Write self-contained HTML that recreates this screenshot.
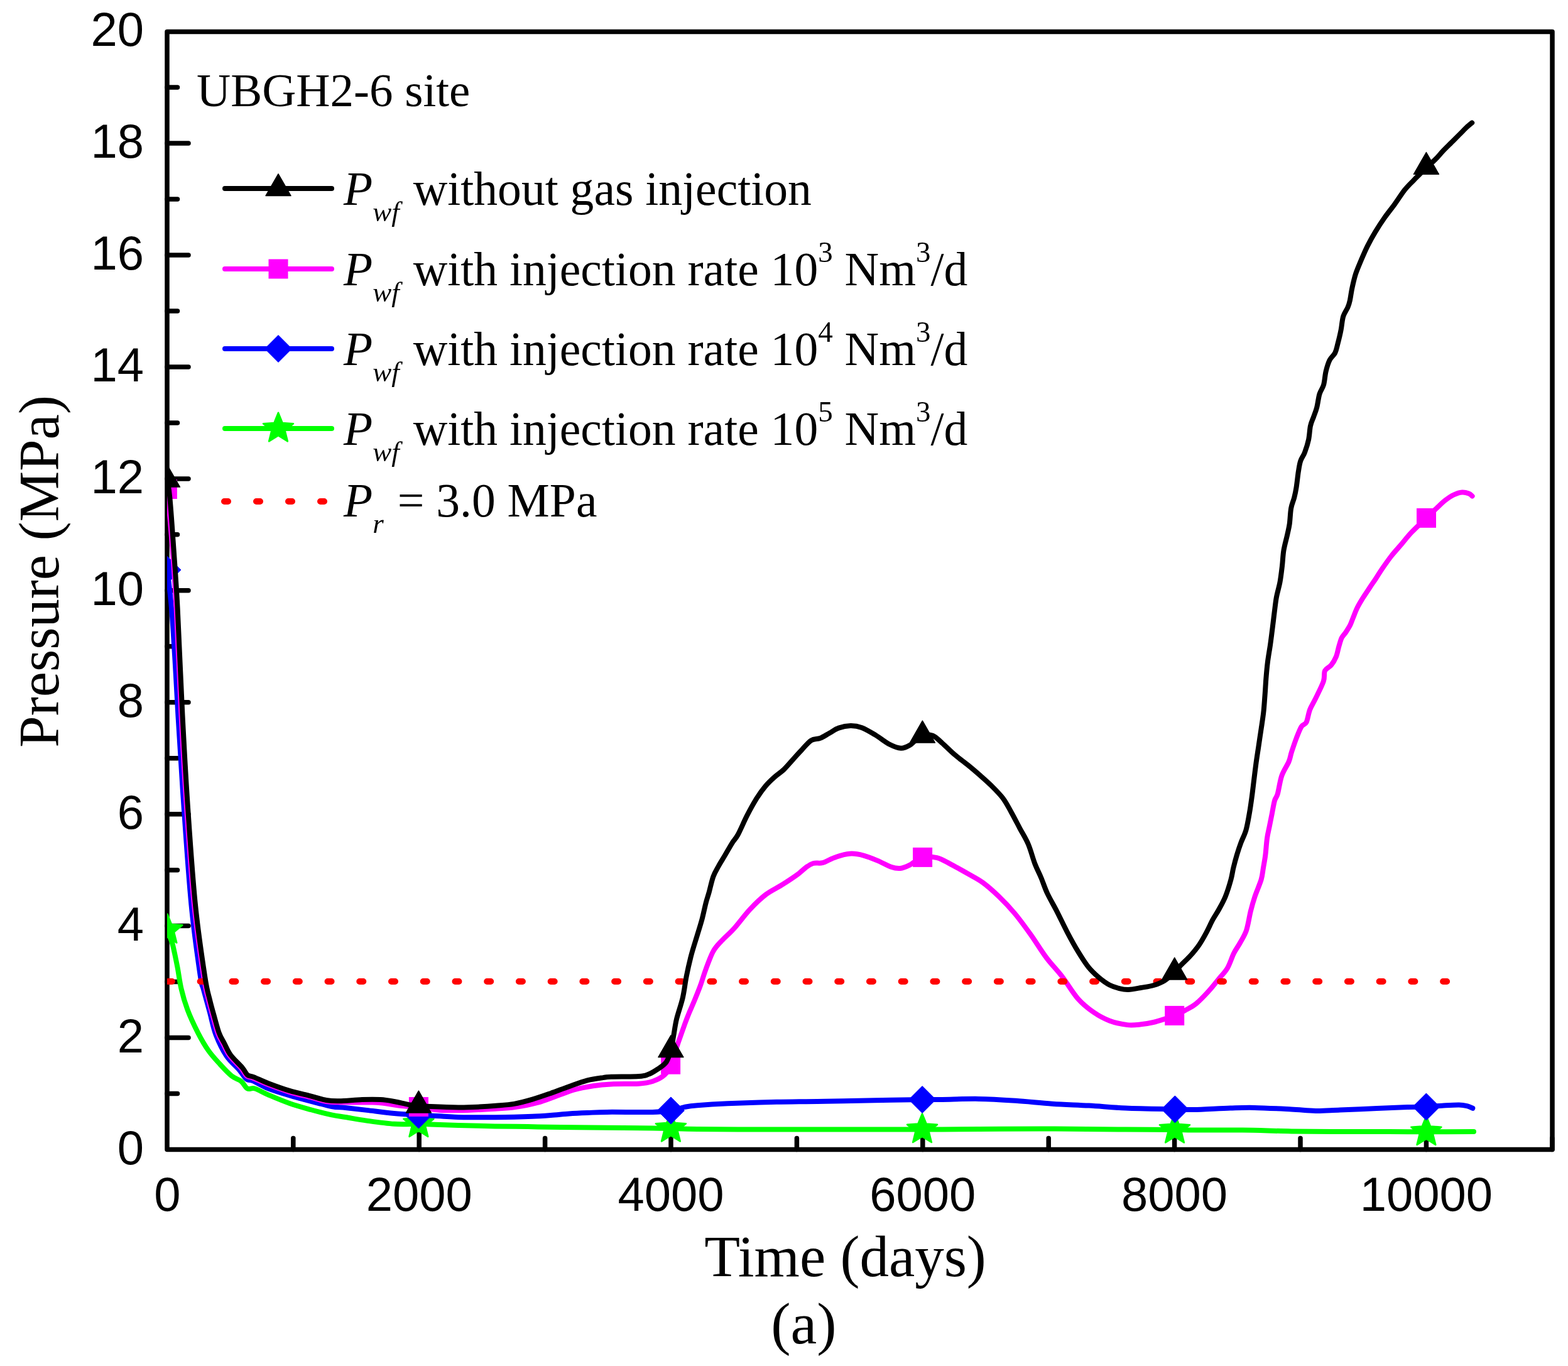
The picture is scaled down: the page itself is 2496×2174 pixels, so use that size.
<!DOCTYPE html>
<html><head><meta charset="utf-8"><style>
html,body{margin:0;padding:0;background:#fff;width:2496px;height:2174px;overflow:hidden}
svg{display:block}
.ax{font-family:"Liberation Sans",Arial,sans-serif;font-size:76px;fill:#000}
.tm{font-family:"Liberation Serif","Times New Roman",serif;fill:#000}
</style></head><body>
<svg width="2496" height="2174" viewBox="0 0 2496 2174">
<defs><clipPath id="cp"><rect x="266" y="50.5" width="2205" height="1779"/></clipPath></defs>

<g stroke="#000" stroke-width="7.5" fill="none" stroke-linecap="round" stroke-linejoin="round">
<rect x="266" y="50.5" width="2205" height="1779"/>
<line x1="266" y1="1740.5" x2="282.5" y2="1740.5"/>
<line x1="266" y1="1651.6" x2="300" y2="1651.6"/>
<line x1="266" y1="1562.6" x2="282.5" y2="1562.6"/>
<line x1="266" y1="1473.6" x2="300" y2="1473.6"/>
<line x1="266" y1="1384.7" x2="282.5" y2="1384.7"/>
<line x1="266" y1="1295.7" x2="300" y2="1295.7"/>
<line x1="266" y1="1206.7" x2="282.5" y2="1206.7"/>
<line x1="266" y1="1117.7" x2="300" y2="1117.7"/>
<line x1="266" y1="1028.8" x2="282.5" y2="1028.8"/>
<line x1="266" y1="939.8" x2="300" y2="939.8"/>
<line x1="266" y1="850.8" x2="282.5" y2="850.8"/>
<line x1="266" y1="761.9" x2="300" y2="761.9"/>
<line x1="266" y1="672.9" x2="282.5" y2="672.9"/>
<line x1="266" y1="583.9" x2="300" y2="583.9"/>
<line x1="266" y1="495.0" x2="282.5" y2="495.0"/>
<line x1="266" y1="406.0" x2="300" y2="406.0"/>
<line x1="266" y1="317.0" x2="282.5" y2="317.0"/>
<line x1="266" y1="228.0" x2="300" y2="228.0"/>
<line x1="266" y1="139.1" x2="282.5" y2="139.1"/>
<line x1="466.8" y1="1829.5" x2="466.8" y2="1811.5"/>
<line x1="667.2" y1="1829.5" x2="667.2" y2="1795"/>
<line x1="867.6" y1="1829.5" x2="867.6" y2="1811.5"/>
<line x1="1068.0" y1="1829.5" x2="1068.0" y2="1795"/>
<line x1="1268.4" y1="1829.5" x2="1268.4" y2="1811.5"/>
<line x1="1468.8" y1="1829.5" x2="1468.8" y2="1795"/>
<line x1="1669.2" y1="1829.5" x2="1669.2" y2="1811.5"/>
<line x1="1869.6" y1="1829.5" x2="1869.6" y2="1795"/>
<line x1="2070.0" y1="1829.5" x2="2070.0" y2="1811.5"/>
<line x1="2270.4" y1="1829.5" x2="2270.4" y2="1795"/>
<line x1="2470.8" y1="1829.5" x2="2470.8" y2="1811.5"/>
</g>
<g class="ax" text-anchor="end">
<text x="229" y="1852.5">0</text>
<text x="229" y="1674.6">2</text>
<text x="229" y="1496.6">4</text>
<text x="229" y="1318.7">6</text>
<text x="229" y="1140.7">8</text>
<text x="229" y="962.8">10</text>
<text x="229" y="784.9">12</text>
<text x="229" y="606.9">14</text>
<text x="229" y="429.0">16</text>
<text x="229" y="251.0">18</text>
<text x="229" y="73.1">20</text>
</g>
<g class="ax" text-anchor="middle">
<text x="266.4" y="1927">0</text>
<text x="667.2" y="1927">2000</text>
<text x="1068.0" y="1927">4000</text>
<text x="1468.8" y="1927">6000</text>
<text x="1869.6" y="1927">8000</text>
<text x="2270.4" y="1927">10000</text>
</g>
<text class="tm" font-size="93" x="1345.5" y="2030.5" text-anchor="middle">Time (days)</text>
<text class="tm" font-size="94" x="1279.3" y="2138" text-anchor="middle">(a)</text>
<text class="tm" font-size="90.5" transform="translate(93.3,909.4) rotate(-90)" text-anchor="middle">Pressure (MPa)</text>
<text class="tm" font-size="75" x="313" y="169">UBGH2-6 site</text>
<line x1="358" y1="300" x2="528" y2="300" stroke="#000" stroke-width="8" stroke-linecap="round"/>
<path d="M443 276.8 L463 311.6 L423 311.6Z" fill="#000" stroke="#000" stroke-width="1.5" stroke-linejoin="round"/>
<text class="tm" font-size="75.6" x="547" y="325.8"><tspan font-style="italic">P</tspan><tspan font-style="italic" font-size="45" dy="26">wf</tspan><tspan dy="-26" dx="22">without gas injection</tspan></text>
<line x1="358" y1="428" x2="528" y2="428" stroke="#f0f" stroke-width="8" stroke-linecap="round"/>
<rect x="427.5" y="412.5" width="31" height="31" fill="#f0f"/>
<text class="tm" font-size="75.6" x="547" y="453.8"><tspan font-style="italic">P</tspan><tspan font-style="italic" font-size="45" dy="26">wf</tspan><tspan dy="-26" dx="22">with injection rate 10</tspan><tspan font-size="47" dy="-37">3</tspan><tspan dy="37"> Nm</tspan><tspan font-size="47" dy="-37">3</tspan><tspan dy="37">/d</tspan></text>
<line x1="358" y1="555" x2="528" y2="555" stroke="#00f" stroke-width="8" stroke-linecap="round"/>
<path d="M443 533.5 L464.5 555 L443 576.5 L421.5 555Z" fill="#00f" stroke="#00f" stroke-width="1" stroke-linejoin="round"/>
<text class="tm" font-size="75.6" x="547" y="580.8"><tspan font-style="italic">P</tspan><tspan font-style="italic" font-size="45" dy="26">wf</tspan><tspan dy="-26" dx="22">with injection rate 10</tspan><tspan font-size="47" dy="-37">4</tspan><tspan dy="37"> Nm</tspan><tspan font-size="47" dy="-37">3</tspan><tspan dy="37">/d</tspan></text>
<line x1="358" y1="682" x2="528" y2="682" stroke="#0f0" stroke-width="8" stroke-linecap="round"/>
<polygon points="443.00,656.80 449.58,672.94 466.97,674.21 453.65,685.46 457.81,702.39 443.00,693.20 428.19,702.39 432.35,685.46 419.03,674.21 436.42,672.94" fill="#0f0" stroke="#0f0" stroke-width="2.6" stroke-linejoin="round"/>
<text class="tm" font-size="75.6" x="547" y="707.8"><tspan font-style="italic">P</tspan><tspan font-style="italic" font-size="45" dy="26">wf</tspan><tspan dy="-26" dx="22">with injection rate 10</tspan><tspan font-size="47" dy="-37">5</tspan><tspan dy="37"> Nm</tspan><tspan font-size="47" dy="-37">3</tspan><tspan dy="37">/d</tspan></text>
<line x1="357" y1="798" x2="517" y2="798" stroke="#f00" stroke-width="10" stroke-linecap="round" stroke-dasharray="6 45"/>
<text class="tm" font-size="75.6" x="547" y="822.3"><tspan font-style="italic">P</tspan><tspan font-style="italic" font-size="45" dy="26">r</tspan><tspan dy="-26" dx="22">= 3.0 MPa</tspan></text>
<g clip-path="url(#cp)">
<path d="M266.4 1480.0 C267.0 1481.7 268.7 1486.6 270.0 1490.0 C271.3 1493.4 272.8 1496.6 274.0 1500.5 C275.2 1504.4 275.8 1507.0 277.2 1513.6 C278.6 1520.2 280.7 1530.0 282.6 1540.0 C284.5 1550.0 285.9 1562.3 288.5 1573.5 C291.1 1584.7 294.1 1595.3 298.5 1607.0 C302.9 1618.7 309.6 1632.9 315.2 1643.8 C320.8 1654.7 326.1 1663.9 332.0 1672.3 C337.9 1680.7 344.3 1687.3 350.4 1694.0 C356.5 1700.7 363.2 1707.9 368.8 1712.4 C374.4 1716.9 379.7 1717.5 383.9 1720.8 C388.1 1724.1 390.3 1730.5 393.9 1732.5 C397.5 1734.5 400.1 1730.8 405.7 1732.5 C411.3 1734.2 418.2 1738.7 427.4 1742.6 C436.6 1746.5 449.7 1752.1 460.9 1756.0 C472.1 1759.9 483.2 1762.9 494.4 1766.0 C505.6 1769.1 518.6 1772.4 527.9 1774.4 C537.2 1776.4 540.7 1776.5 550.0 1778.0 C559.3 1779.5 570.9 1781.8 583.8 1783.6 C596.7 1785.4 613.7 1787.9 627.5 1788.8 C641.3 1789.7 656.7 1788.7 666.4 1788.8 C676.1 1788.9 675.3 1789.2 685.8 1789.5 C696.3 1789.8 712.6 1790.4 729.6 1790.9 C746.6 1791.4 769.5 1792.0 787.9 1792.4 C806.3 1792.8 822.5 1792.8 840.0 1793.1 C857.5 1793.4 871.9 1793.7 892.9 1794.0 C913.9 1794.3 941.5 1794.5 965.8 1794.7 C990.1 1794.9 1021.8 1795.2 1038.8 1795.4 C1055.8 1795.6 1056.0 1795.7 1067.9 1796.0 C1079.8 1796.3 1088.5 1796.8 1110.0 1797.0 C1131.5 1797.2 1166.5 1797.4 1197.2 1797.5 C1228.0 1797.6 1262.1 1797.5 1294.5 1797.5 C1326.9 1797.5 1362.8 1797.5 1391.7 1797.5 C1420.6 1797.5 1450.0 1797.6 1468.0 1797.6 C1486.0 1797.6 1468.7 1797.7 1500.0 1797.5 C1531.3 1797.3 1607.0 1796.5 1655.6 1796.5 C1704.2 1796.5 1756.0 1797.2 1791.7 1797.5 C1827.4 1797.8 1852.0 1797.8 1870.0 1798.0 C1888.0 1798.2 1882.0 1798.4 1900.0 1798.5 C1918.0 1798.6 1951.9 1798.2 1977.8 1798.5 C2003.7 1798.8 2029.7 1800.0 2055.6 1800.4 C2081.5 1800.8 2107.4 1800.9 2133.3 1801.0 C2159.2 1801.1 2188.2 1801.0 2211.1 1801.0 C2233.9 1801.0 2247.9 1801.3 2270.4 1801.3 C2292.9 1801.3 2333.4 1801.0 2346.0 1801.0" fill="none" stroke="#0f0" stroke-width="8" stroke-linejoin="round" stroke-linecap="round"/>
<polygon points="266.40,1454.80 272.98,1470.94 290.37,1472.21 277.05,1483.46 281.21,1500.39 266.40,1491.20 251.59,1500.39 255.75,1483.46 242.43,1472.21 259.82,1470.94" fill="#0f0" stroke="#0f0" stroke-width="2.6" stroke-linejoin="round"/>
<polygon points="666.40,1763.30 672.98,1779.44 690.37,1780.71 677.05,1791.96 681.21,1808.89 666.40,1799.70 651.59,1808.89 655.75,1791.96 642.43,1780.71 659.82,1779.44" fill="#0f0" stroke="#0f0" stroke-width="2.6" stroke-linejoin="round"/>
<polygon points="1067.90,1770.80 1074.48,1786.94 1091.87,1788.21 1078.55,1799.46 1082.71,1816.39 1067.90,1807.20 1053.09,1816.39 1057.25,1799.46 1043.93,1788.21 1061.32,1786.94" fill="#0f0" stroke="#0f0" stroke-width="2.6" stroke-linejoin="round"/>
<polygon points="1468.00,1772.40 1474.58,1788.54 1491.97,1789.81 1478.65,1801.06 1482.81,1817.99 1468.00,1808.80 1453.19,1817.99 1457.35,1801.06 1444.03,1789.81 1461.42,1788.54" fill="#0f0" stroke="#0f0" stroke-width="2.6" stroke-linejoin="round"/>
<polygon points="1870.00,1772.80 1876.58,1788.94 1893.97,1790.21 1880.65,1801.46 1884.81,1818.39 1870.00,1809.20 1855.19,1818.39 1859.35,1801.46 1846.03,1790.21 1863.42,1788.94" fill="#0f0" stroke="#0f0" stroke-width="2.6" stroke-linejoin="round"/>
<polygon points="2270.40,1776.30 2276.98,1792.44 2294.37,1793.71 2281.05,1804.96 2285.21,1821.89 2270.40,1812.70 2255.59,1821.89 2259.75,1804.96 2246.43,1793.71 2263.82,1792.44" fill="#0f0" stroke="#0f0" stroke-width="2.6" stroke-linejoin="round"/>
<path d="M266.4 907.0 C267.5 917.1 271.0 943.9 273.0 967.7 C275.0 991.5 276.8 1021.3 278.5 1050.0 C280.2 1078.7 281.2 1101.5 283.5 1140.0 C285.8 1178.5 288.9 1230.7 292.4 1280.7 C295.9 1330.7 300.1 1394.5 304.5 1440.0 C308.9 1485.5 315.7 1531.5 318.9 1553.8 C322.1 1576.0 321.1 1564.1 323.6 1573.5 C326.1 1582.9 330.4 1598.0 333.7 1610.3 C337.0 1622.6 339.2 1635.4 343.7 1647.1 C348.2 1658.8 354.4 1671.4 360.5 1680.6 C366.6 1689.8 375.2 1696.2 380.5 1702.4 C385.8 1708.6 388.7 1714.6 392.3 1717.5 C395.9 1720.4 396.5 1717.5 402.3 1720.0 C408.1 1722.5 417.6 1728.6 427.4 1732.5 C437.2 1736.4 449.7 1740.1 460.9 1743.4 C472.1 1746.8 483.2 1749.7 494.4 1752.6 C505.6 1755.5 518.6 1759.3 527.9 1761.0 C537.2 1762.7 540.7 1762.0 550.0 1763.0 C559.3 1764.0 570.9 1765.4 583.8 1766.9 C596.7 1768.4 613.7 1770.7 627.5 1772.0 C641.3 1773.3 656.7 1773.9 666.4 1774.5 C676.1 1775.1 675.3 1775.0 685.8 1775.6 C696.3 1776.2 717.2 1777.5 729.6 1778.0 C742.0 1778.5 745.2 1778.3 760.0 1778.3 C774.8 1778.3 803.7 1778.0 818.3 1777.8 C832.9 1777.5 837.8 1777.3 847.5 1776.8 C857.2 1776.3 867.0 1775.6 876.7 1774.9 C886.4 1774.2 896.1 1773.1 905.8 1772.4 C915.5 1771.8 925.0 1771.4 935.0 1771.0 C945.0 1770.6 948.5 1770.1 965.8 1769.9 C983.1 1769.7 1021.8 1770.3 1038.8 1769.9 C1055.8 1769.5 1059.4 1768.7 1067.9 1767.4 C1076.4 1766.1 1082.8 1763.3 1089.8 1761.9 C1096.8 1760.5 1098.6 1760.1 1110.0 1759.2 C1121.4 1758.3 1137.3 1757.2 1158.3 1756.3 C1179.3 1755.4 1210.2 1754.4 1236.1 1753.8 C1262.0 1753.2 1288.0 1753.2 1313.9 1752.8 C1339.8 1752.4 1366.0 1751.7 1391.7 1751.2 C1417.4 1750.7 1450.0 1750.2 1468.1 1750.0 C1486.1 1749.8 1485.0 1750.1 1500.0 1749.9 C1515.0 1749.7 1538.8 1748.6 1558.3 1748.9 C1577.8 1749.2 1597.2 1750.5 1616.7 1751.8 C1636.2 1753.1 1655.5 1755.4 1675.0 1756.7 C1694.5 1758.0 1714.0 1758.5 1733.4 1759.6 C1752.9 1760.7 1768.9 1762.5 1791.7 1763.5 C1814.5 1764.5 1852.4 1765.0 1870.4 1765.4 C1888.5 1765.8 1885.3 1766.3 1900.0 1766.0 C1914.7 1765.7 1942.1 1764.0 1958.3 1763.5 C1974.5 1763.0 1981.0 1762.6 1997.2 1762.9 C2013.4 1763.2 2039.4 1764.6 2055.6 1765.4 C2071.8 1766.2 2081.6 1767.7 2094.5 1767.9 C2107.4 1768.1 2117.1 1767.0 2133.3 1766.4 C2149.5 1765.8 2173.9 1764.8 2191.7 1764.1 C2209.5 1763.4 2227.2 1762.5 2240.3 1762.1 C2253.4 1761.7 2261.2 1761.9 2270.4 1761.5 C2279.6 1761.1 2286.6 1760.2 2295.3 1759.7 C2304.0 1759.2 2315.7 1758.3 2322.5 1758.4 C2329.3 1758.5 2332.5 1759.5 2336.1 1760.4 C2339.7 1761.3 2342.9 1763.2 2344.3 1763.8" fill="none" stroke="#00f" stroke-width="8" stroke-linejoin="round" stroke-linecap="round"/>
<path d="M266.4 885.5 L287.9 907 L266.4 928.5 L244.89999999999998 907Z" fill="#00f" stroke="#00f" stroke-width="1" stroke-linejoin="round"/>
<path d="M666.4 1753.0 L687.9 1774.5 L666.4 1796.0 L644.9 1774.5Z" fill="#00f" stroke="#00f" stroke-width="1" stroke-linejoin="round"/>
<path d="M1067.9 1745.9 L1089.4 1767.4 L1067.9 1788.9 L1046.4 1767.4Z" fill="#00f" stroke="#00f" stroke-width="1" stroke-linejoin="round"/>
<path d="M1468.1 1728.5 L1489.6 1750 L1468.1 1771.5 L1446.6 1750Z" fill="#00f" stroke="#00f" stroke-width="1" stroke-linejoin="round"/>
<path d="M1870.4 1743.9 L1891.9 1765.4 L1870.4 1786.9 L1848.9 1765.4Z" fill="#00f" stroke="#00f" stroke-width="1" stroke-linejoin="round"/>
<path d="M2270.4 1740.0 L2291.9 1761.5 L2270.4 1783.0 L2248.9 1761.5Z" fill="#00f" stroke="#00f" stroke-width="1" stroke-linejoin="round"/>
<path d="M266.4 778.5 C267.8 794.4 272.1 842.5 274.5 874.0 C276.9 905.5 278.3 923.7 280.6 967.8 C282.9 1011.9 285.8 1086.6 288.5 1138.8 C291.2 1191.0 293.3 1230.6 296.7 1280.8 C300.1 1331.0 304.4 1394.7 309.0 1440.2 C313.6 1485.8 320.3 1529.0 324.1 1554.1 C327.9 1579.2 329.4 1580.4 331.8 1590.7 C334.2 1601.0 336.0 1606.8 338.5 1615.8 C341.0 1624.8 344.0 1636.9 346.8 1644.5 C349.6 1652.1 352.2 1655.5 355.3 1661.4 C358.4 1667.4 360.7 1673.7 365.5 1680.2 C370.3 1686.7 379.6 1695.0 384.1 1700.3 C388.6 1705.6 389.4 1709.7 392.6 1712.3 C395.8 1714.9 397.6 1713.7 403.3 1716.0 C409.0 1718.3 417.2 1722.5 426.7 1726.1 C436.2 1729.7 449.1 1734.4 460.3 1737.8 C471.5 1741.2 484.1 1743.7 493.9 1746.2 C503.7 1748.7 511.5 1751.7 519.2 1753.0 C526.9 1754.3 529.1 1754.0 539.9 1754.3 C550.7 1754.5 572.8 1754.3 583.8 1754.5 C594.8 1754.7 595.9 1754.2 605.6 1755.2 C615.3 1756.2 631.6 1759.2 642.0 1760.3 C652.4 1761.4 658.3 1760.9 668.0 1762.0 C677.7 1763.1 687.7 1766.1 700.4 1766.9 C713.1 1767.7 729.6 1767.3 744.2 1766.9 C758.8 1766.5 775.3 1765.5 787.9 1764.7 C800.5 1763.9 808.6 1763.7 820.0 1762.0 C831.4 1760.3 845.6 1757.5 856.5 1754.6 C867.4 1751.7 875.9 1747.8 885.6 1744.4 C895.3 1741.0 905.1 1736.9 914.8 1734.2 C924.5 1731.5 934.3 1729.8 944.0 1728.3 C953.7 1726.8 961.0 1726.0 973.1 1725.4 C985.2 1724.8 1006.0 1725.4 1016.9 1724.7 C1027.8 1724.0 1032.0 1723.3 1038.8 1721.0 C1045.6 1718.7 1052.8 1715.3 1057.7 1710.8 C1062.6 1706.3 1064.2 1703.0 1067.9 1694.2 C1071.6 1685.5 1076.3 1669.0 1080.0 1658.3 C1083.7 1647.6 1087.2 1637.7 1090.0 1630.0 C1092.8 1622.3 1094.3 1618.5 1097.0 1612.0 C1099.7 1605.5 1103.0 1598.5 1106.0 1591.1 C1109.0 1583.7 1112.3 1575.8 1115.2 1567.7 C1118.1 1559.6 1120.2 1551.5 1123.6 1542.6 C1126.9 1533.7 1131.1 1521.6 1135.3 1514.1 C1139.5 1506.6 1143.1 1503.5 1148.7 1497.4 C1154.3 1491.3 1161.3 1485.7 1168.8 1477.3 C1176.3 1468.9 1185.5 1456.1 1193.9 1447.2 C1202.3 1438.3 1210.6 1430.2 1219.0 1423.8 C1227.4 1417.4 1235.7 1414.0 1244.1 1408.7 C1252.5 1403.4 1262.7 1396.7 1269.2 1392.0 C1275.7 1387.3 1278.8 1383.5 1283.0 1380.5 C1287.2 1377.5 1290.2 1375.2 1294.6 1374.0 C1299.0 1372.8 1304.3 1374.4 1309.2 1373.2 C1314.1 1372.0 1319.0 1368.6 1323.8 1366.7 C1328.6 1364.8 1333.0 1362.9 1338.3 1361.6 C1343.6 1360.2 1349.7 1358.6 1355.8 1358.6 C1361.9 1358.6 1368.0 1359.8 1374.8 1361.6 C1381.6 1363.4 1389.4 1366.6 1396.7 1369.6 C1404.0 1372.6 1412.4 1377.7 1418.5 1379.8 C1424.6 1381.9 1428.2 1382.5 1433.1 1382.0 C1438.0 1381.5 1441.8 1379.8 1447.7 1376.9 C1453.6 1374.0 1461.3 1366.5 1468.6 1364.5 C1475.9 1362.5 1484.0 1363.4 1491.5 1365.2 C1499.0 1367.0 1504.8 1371.0 1513.3 1375.4 C1521.8 1379.8 1533.9 1386.6 1542.5 1391.5 C1551.1 1396.4 1557.0 1399.1 1565.0 1405.0 C1573.0 1410.9 1581.8 1418.8 1590.2 1426.9 C1598.6 1435.0 1606.9 1443.7 1615.3 1453.7 C1623.7 1463.7 1632.1 1475.4 1640.5 1487.1 C1648.9 1498.8 1657.2 1512.8 1665.6 1524.0 C1674.0 1535.2 1682.3 1543.2 1690.7 1554.1 C1699.1 1565.0 1707.4 1579.8 1715.8 1589.3 C1724.2 1598.8 1732.5 1605.2 1740.9 1611.0 C1749.3 1616.8 1757.1 1621.1 1766.0 1624.4 C1774.9 1627.8 1786.1 1630.1 1794.5 1631.1 C1802.9 1632.1 1809.3 1631.0 1816.2 1630.3 C1823.1 1629.6 1829.8 1628.4 1836.0 1627.0 C1842.2 1625.6 1847.9 1623.7 1853.5 1621.9 C1859.1 1620.1 1864.1 1618.8 1869.7 1616.4 C1875.3 1614.0 1881.3 1610.8 1887.0 1607.7 C1892.7 1604.6 1897.6 1602.6 1903.7 1597.6 C1909.8 1592.6 1917.7 1584.3 1923.8 1577.6 C1929.9 1570.9 1935.5 1563.7 1940.5 1557.5 C1945.5 1551.3 1950.0 1547.4 1953.9 1540.7 C1957.8 1534.0 1960.7 1524.0 1964.0 1517.3 C1967.3 1510.6 1970.7 1506.6 1974.0 1500.5 C1977.3 1494.4 1981.3 1488.9 1984.1 1480.5 C1986.9 1472.1 1988.6 1459.2 1990.8 1450.3 C1993.0 1441.4 1994.7 1435.3 1997.5 1426.9 C2000.3 1418.5 2005.3 1407.6 2007.6 1400.0 C2009.8 1392.4 2009.9 1387.6 2011.0 1381.1 C2012.1 1374.6 2013.3 1368.8 2014.3 1361.0 C2015.3 1353.2 2015.9 1342.0 2017.0 1334.2 C2018.1 1326.4 2019.7 1320.8 2021.0 1314.1 C2022.3 1307.4 2023.7 1300.7 2025.0 1294.0 C2026.3 1287.3 2027.6 1279.0 2029.1 1273.9 C2030.6 1268.8 2031.9 1270.0 2033.8 1263.4 C2035.7 1256.8 2037.4 1243.0 2040.4 1234.4 C2043.4 1225.9 2049.0 1218.4 2051.6 1212.1 C2054.2 1205.8 2054.0 1202.7 2056.1 1196.4 C2058.2 1190.1 2061.3 1180.8 2063.9 1174.1 C2066.5 1167.4 2069.1 1160.4 2071.7 1156.3 C2074.3 1152.2 2077.3 1154.1 2079.5 1149.6 C2081.7 1145.1 2082.7 1135.8 2085.1 1129.5 C2087.5 1123.2 2090.4 1119.5 2094.0 1112.0 C2097.6 1104.5 2104.3 1091.6 2106.8 1084.2 C2109.3 1076.8 2106.9 1071.7 2109.0 1067.4 C2111.1 1063.1 2116.1 1062.2 2119.1 1058.5 C2122.1 1054.8 2124.8 1050.1 2126.9 1045.1 C2129.0 1040.1 2129.9 1033.4 2131.4 1028.4 C2132.9 1023.4 2134.0 1018.7 2135.8 1015.0 C2137.7 1011.3 2140.3 1009.4 2142.5 1006.0 C2144.7 1002.6 2147.3 998.6 2149.2 994.9 C2151.1 991.2 2151.8 988.3 2153.7 983.7 C2155.6 979.1 2157.8 972.8 2160.4 967.5 C2163.0 962.2 2166.0 957.4 2169.3 952.0 C2172.7 946.6 2177.1 940.2 2180.5 935.0 C2183.9 929.8 2186.7 926.0 2190.0 921.0 C2193.3 916.0 2196.1 911.1 2200.3 905.0 C2204.5 898.9 2209.9 891.1 2215.0 884.6 C2220.1 878.1 2225.8 872.1 2231.1 865.9 C2236.4 859.6 2240.5 854.0 2247.1 847.1 C2253.7 840.2 2263.8 830.9 2270.5 824.4 C2277.2 817.9 2282.3 813.0 2287.3 808.3 C2292.3 803.6 2296.2 799.7 2300.7 796.2 C2305.2 792.7 2309.6 789.6 2314.1 787.5 C2318.6 785.4 2323.5 783.8 2327.5 783.5 C2331.5 783.2 2335.5 784.5 2338.2 785.5 C2340.9 786.5 2342.7 788.9 2343.6 789.6" fill="none" stroke="#f0f" stroke-width="8" stroke-linejoin="round" stroke-linecap="round"/>
<rect x="250.89999999999998" y="763.0" width="31" height="31" fill="#f0f"/>
<rect x="650.9" y="1746.0" width="31" height="31" fill="#f0f"/>
<rect x="1052.1" y="1678.7" width="31" height="31" fill="#f0f"/>
<rect x="1453.1" y="1348.9" width="31" height="31" fill="#f0f"/>
<rect x="1854.2" y="1600.9" width="31" height="31" fill="#f0f"/>
<rect x="2255.0" y="808.9" width="31" height="31" fill="#f0f"/>
<line x1="267.9" y1="1562" x2="2303.2" y2="1562" stroke="#f00" stroke-width="10" stroke-linecap="round" stroke-dasharray="6 44.73"/>
<path d="M266.4 763.0 C267.1 768.1 268.8 775.1 270.5 793.6 C272.2 812.1 274.5 844.9 276.5 873.9 C278.5 902.9 280.3 923.6 282.6 967.7 C284.9 1011.8 287.8 1086.5 290.5 1138.7 C293.2 1190.9 295.3 1230.5 298.7 1280.7 C302.1 1330.9 306.4 1394.5 311.0 1440.0 C315.6 1485.5 322.3 1528.8 326.1 1553.8 C329.9 1578.8 331.3 1580.0 333.7 1590.2 C336.1 1600.5 337.9 1606.4 340.4 1615.3 C342.9 1624.2 345.9 1636.3 348.7 1643.8 C351.5 1651.3 354.0 1654.6 357.1 1660.5 C360.2 1666.4 362.4 1672.6 367.1 1679.0 C371.9 1685.4 381.1 1693.7 385.6 1699.0 C390.1 1704.3 390.8 1708.3 393.9 1710.8 C397.0 1713.3 398.4 1711.9 404.0 1714.1 C409.6 1716.3 417.9 1720.6 427.4 1724.2 C436.9 1727.8 449.7 1732.6 460.9 1735.9 C472.1 1739.2 484.6 1741.8 494.4 1744.3 C504.2 1746.8 511.9 1749.7 519.5 1751.0 C527.1 1752.3 530.5 1752.5 540.0 1752.3 C549.5 1752.1 565.6 1750.5 576.5 1750.1 C587.4 1749.7 597.1 1749.6 605.6 1750.1 C614.1 1750.6 620.0 1751.7 627.5 1753.0 C635.0 1754.3 644.3 1757.0 650.8 1758.1 C657.3 1759.2 660.6 1758.9 666.4 1759.4 C672.2 1759.9 675.3 1760.5 685.8 1761.0 C696.3 1761.5 717.2 1762.4 729.6 1762.5 C742.0 1762.6 750.1 1762.2 760.0 1761.7 C769.9 1761.2 779.5 1760.6 789.2 1759.8 C798.9 1759.0 808.6 1758.6 818.3 1756.9 C828.0 1755.2 837.8 1752.4 847.5 1749.6 C857.2 1746.8 867.0 1743.3 876.7 1739.9 C886.4 1736.5 896.1 1732.6 905.8 1729.2 C915.5 1725.8 926.0 1721.8 935.0 1719.4 C944.0 1717.1 953.6 1716.0 960.0 1715.1 C966.4 1714.2 963.6 1714.1 973.1 1713.8 C982.6 1713.5 1007.2 1713.6 1016.9 1713.0 C1026.6 1712.4 1026.7 1711.9 1031.5 1710.1 C1036.3 1708.3 1041.2 1705.4 1046.0 1702.1 C1050.8 1698.8 1056.9 1695.6 1060.6 1690.4 C1064.2 1685.2 1066.0 1678.0 1067.9 1671.0 C1069.9 1664.0 1070.8 1656.3 1072.3 1648.1 C1073.8 1639.9 1074.6 1632.0 1077.0 1621.9 C1079.4 1611.9 1084.2 1599.1 1086.8 1587.8 C1089.4 1576.5 1090.4 1565.5 1092.6 1554.3 C1094.8 1543.1 1097.3 1531.9 1100.2 1520.8 C1103.1 1509.7 1107.3 1497.2 1110.2 1487.4 C1113.1 1477.7 1115.5 1470.7 1117.7 1462.3 C1119.9 1453.9 1121.8 1444.2 1123.6 1437.2 C1125.4 1430.2 1126.6 1427.4 1128.6 1420.4 C1130.5 1413.4 1132.8 1402.3 1135.3 1395.3 C1137.8 1388.3 1140.6 1384.2 1143.7 1378.6 C1146.8 1373.0 1150.1 1367.9 1153.7 1361.8 C1157.3 1355.7 1161.9 1347.3 1165.4 1341.8 C1168.9 1336.2 1170.6 1335.8 1174.6 1328.5 C1178.6 1321.2 1184.3 1307.4 1189.2 1297.9 C1194.1 1288.4 1199.0 1279.5 1203.8 1271.7 C1208.6 1263.9 1213.4 1257.1 1218.3 1251.3 C1223.2 1245.5 1228.0 1241.1 1232.9 1236.7 C1237.8 1232.3 1242.6 1229.6 1247.5 1225.0 C1252.4 1220.4 1257.2 1214.3 1262.1 1209.0 C1267.0 1203.7 1271.8 1198.0 1276.7 1192.9 C1281.6 1187.8 1286.5 1181.3 1291.3 1178.3 C1296.1 1175.3 1300.9 1176.6 1305.8 1174.7 C1310.7 1172.8 1315.5 1169.4 1320.4 1166.7 C1325.3 1164.0 1329.4 1160.5 1335.0 1158.6 C1340.6 1156.6 1347.9 1155.1 1354.0 1155.0 C1360.1 1154.9 1365.0 1155.5 1371.5 1157.9 C1378.0 1160.3 1386.0 1165.2 1393.3 1169.6 C1400.6 1174.0 1408.4 1180.7 1415.2 1184.2 C1422.0 1187.7 1428.6 1190.5 1434.2 1190.7 C1439.8 1190.9 1444.5 1188.1 1448.8 1185.6 C1453.1 1183.0 1456.8 1178.0 1460.0 1175.4 C1463.2 1172.8 1464.1 1170.8 1468.2 1170.0 C1472.3 1169.2 1479.5 1168.6 1484.8 1170.7 C1490.1 1172.8 1494.1 1177.7 1499.9 1182.7 C1505.7 1187.7 1512.6 1195.0 1519.4 1200.8 C1526.2 1206.6 1533.7 1211.9 1540.5 1217.4 C1547.3 1222.9 1553.8 1228.5 1560.1 1234.0 C1566.4 1239.5 1572.2 1244.5 1578.2 1250.5 C1584.2 1256.5 1591.0 1263.1 1596.3 1270.1 C1601.6 1277.1 1605.3 1284.7 1609.8 1292.7 C1614.3 1300.7 1618.9 1309.8 1623.4 1318.3 C1627.9 1326.8 1633.0 1334.5 1637.0 1344.0 C1641.0 1353.5 1644.1 1366.2 1647.5 1375.0 C1650.9 1383.8 1653.9 1388.9 1657.2 1396.7 C1660.5 1404.5 1663.0 1413.0 1667.2 1421.9 C1671.4 1430.8 1677.0 1440.0 1682.3 1450.3 C1687.6 1460.6 1693.4 1473.2 1699.0 1483.8 C1704.6 1494.4 1710.2 1504.7 1715.8 1513.9 C1721.4 1523.1 1726.9 1532.0 1732.5 1539.0 C1738.1 1546.0 1743.7 1551.0 1749.3 1555.8 C1754.9 1560.5 1760.4 1564.6 1766.0 1567.5 C1771.6 1570.4 1777.8 1572.2 1782.8 1573.4 C1787.8 1574.7 1790.6 1575.2 1796.2 1575.0 C1801.8 1574.8 1809.5 1573.2 1816.2 1572.0 C1823.0 1570.8 1830.5 1569.9 1836.7 1568.0 C1842.9 1566.1 1848.0 1564.2 1853.5 1560.8 C1859.0 1557.4 1865.5 1551.3 1869.7 1547.4 C1873.9 1543.5 1874.3 1541.9 1878.6 1537.4 C1882.9 1532.9 1890.3 1526.2 1895.3 1520.6 C1900.3 1515.0 1904.5 1510.0 1908.7 1503.9 C1912.9 1497.8 1916.9 1490.5 1920.5 1483.8 C1924.1 1477.1 1927.2 1469.8 1930.5 1463.7 C1933.8 1457.6 1937.2 1453.1 1940.5 1447.0 C1943.8 1440.9 1947.4 1434.7 1950.6 1426.9 C1953.8 1419.1 1957.3 1407.6 1959.4 1400.0 C1961.5 1392.4 1961.8 1387.6 1963.4 1381.1 C1965.0 1374.6 1966.8 1367.7 1968.8 1361.0 C1970.8 1354.3 1973.0 1347.6 1975.5 1340.9 C1978.0 1334.2 1981.3 1328.6 1983.5 1320.8 C1985.7 1313.0 1987.3 1302.9 1988.9 1294.0 C1990.5 1285.1 1991.7 1276.1 1992.9 1267.2 C1994.1 1258.3 1995.1 1249.3 1996.2 1240.4 C1997.3 1231.5 1998.4 1222.5 1999.6 1213.6 C2000.8 1204.7 2002.3 1195.7 2003.6 1186.8 C2004.9 1177.9 2006.3 1168.8 2007.6 1160.0 C2008.9 1151.2 2010.3 1142.7 2011.3 1133.9 C2012.3 1125.1 2012.8 1116.0 2013.5 1107.1 C2014.2 1098.2 2014.6 1089.3 2015.3 1080.4 C2016.0 1071.5 2016.8 1062.5 2017.9 1053.6 C2019.0 1044.7 2020.7 1035.7 2022.0 1026.8 C2023.3 1017.9 2024.4 1008.4 2025.5 1000.0 C2026.6 991.6 2027.4 984.4 2028.4 976.2 C2029.5 968.0 2030.3 959.4 2031.8 951.0 C2033.3 942.6 2036.1 934.3 2037.6 925.9 C2039.1 917.5 2040.0 909.2 2041.0 900.8 C2042.0 892.4 2042.1 884.1 2043.5 875.7 C2044.9 867.3 2047.8 857.6 2049.3 850.6 C2050.8 843.6 2051.7 840.9 2052.7 833.9 C2053.7 826.9 2053.9 815.8 2055.2 808.8 C2056.4 801.8 2058.8 797.6 2060.2 792.0 C2061.6 786.4 2062.5 782.3 2063.6 775.3 C2064.7 768.3 2065.8 757.2 2066.9 750.2 C2068.0 743.2 2068.6 738.5 2070.3 733.5 C2072.0 728.5 2074.8 725.8 2076.9 720.1 C2079.0 714.5 2081.6 706.7 2083.1 699.6 C2084.6 692.5 2084.7 683.8 2086.0 677.8 C2087.3 671.8 2089.4 668.1 2091.1 663.3 C2092.8 658.4 2094.5 654.8 2096.1 648.7 C2097.7 642.7 2098.7 633.0 2100.5 627.0 C2102.3 621.0 2105.3 618.5 2107.0 612.5 C2108.7 606.5 2109.1 597.2 2110.7 590.7 C2112.3 584.2 2114.1 578.1 2116.5 573.2 C2118.9 568.4 2123.0 566.0 2125.2 561.6 C2127.4 557.2 2127.9 553.2 2129.5 547.1 C2131.1 541.0 2133.2 532.5 2134.6 525.3 C2136.0 518.0 2136.4 509.7 2138.2 503.6 C2140.0 497.6 2143.7 493.3 2145.5 489.0 C2147.3 484.7 2147.8 483.1 2148.9 478.0 C2150.0 472.9 2150.8 465.6 2152.3 458.6 C2153.8 451.7 2155.5 443.8 2157.9 436.3 C2160.3 428.9 2163.7 421.3 2166.8 413.9 C2170.0 406.4 2173.1 399.0 2176.8 391.6 C2180.5 384.2 2184.6 376.7 2189.1 369.3 C2193.6 361.9 2198.4 354.4 2203.6 347.0 C2208.8 339.6 2215.0 332.1 2220.4 324.6 C2225.8 317.2 2231.1 308.5 2236.0 302.3 C2240.9 296.1 2246.4 291.1 2250.1 287.2 C2253.8 283.3 2254.7 282.5 2258.1 279.1 C2261.5 275.7 2265.8 271.2 2270.3 267.0 C2274.8 262.8 2280.5 258.1 2284.9 253.7 C2289.3 249.2 2292.8 244.8 2297.0 240.3 C2301.2 235.8 2305.9 231.4 2310.4 226.9 C2314.9 222.4 2319.9 217.4 2323.8 213.5 C2327.7 209.6 2330.6 206.4 2333.8 203.4 C2337.0 200.4 2341.6 196.7 2343.2 195.4" fill="none" stroke="#000" stroke-width="8" stroke-linejoin="round" stroke-linecap="round"/>
<path d="M266.4 740.3 L286.4 775.1 L246.39999999999998 775.1Z" fill="#000" stroke="#000" stroke-width="1.5" stroke-linejoin="round"/>
<path d="M666.4 1736.2 L686.4 1771.0 L646.4 1771.0Z" fill="#000" stroke="#000" stroke-width="1.5" stroke-linejoin="round"/>
<path d="M1067.9 1647.8 L1087.9 1682.6 L1047.9 1682.6Z" fill="#000" stroke="#000" stroke-width="1.5" stroke-linejoin="round"/>
<path d="M1468.4 1147.2 L1488.4 1182.0 L1448.4 1182.0Z" fill="#000" stroke="#000" stroke-width="1.5" stroke-linejoin="round"/>
<path d="M1869.7 1524.2 L1889.7 1559.0 L1849.7 1559.0Z" fill="#000" stroke="#000" stroke-width="1.5" stroke-linejoin="round"/>
<path d="M2270.4 242.5 L2290.4 277.3 L2250.4 277.3Z" fill="#000" stroke="#000" stroke-width="1.5" stroke-linejoin="round"/>
</g>
</svg></body></html>
